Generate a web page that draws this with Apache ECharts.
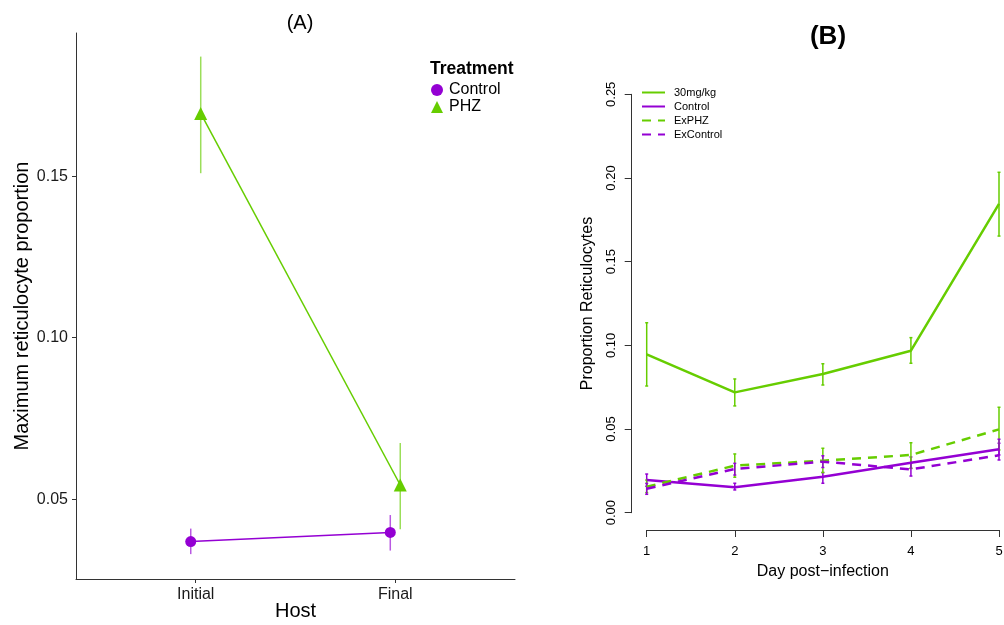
<!DOCTYPE html>
<html>
<head>
<meta charset="utf-8">
<script src="https://cdn.jsdelivr.net/npm/echarts@6/dist/echarts.min.js"></script>
<style>html,body{margin:0;padding:0;background:#fff}#c{width:1004px;height:625px}</style>
</head>
<body>
<div id="c"></div>
<script>
// ---- Panel A data ----
const hostCats = ['Initial', 'Final'];
const aYTicks = [0.05, 0.10, 0.15];
const aControl = [0.0369, 0.0397];
const aControlLo = [0.0330, 0.0341];
const aControlHi = [0.0409, 0.0451];
const aPHZ = [0.1694, 0.0544];
const aPHZLo = [0.1509, 0.0407];
const aPHZHi = [0.1870, 0.0674];

// ---- Panel B data ----
const days = [1, 2, 3, 4, 5];
const b30 = [0.0946, 0.0719, 0.0829, 0.0968, 0.1845];
const b30Lo = [0.0757, 0.0638, 0.0763, 0.0893, 0.1653];
const b30Hi = [0.1135, 0.0799, 0.0890, 0.1046, 0.2034];
const bControl = [0.0195, 0.0152, 0.0215, 0.0299, 0.0379];
const bControlLo = [0.0158, 0.0136, 0.0176, 0.0265, 0.0345];
const bControlHi = [0.0231, 0.0176, 0.0240, 0.0333, 0.0415];
const bExPHZ = [0.0155, 0.0281, 0.0311, 0.0345, 0.0498];
const bExPHZLo = [0.0120, 0.0212, 0.0240, 0.0265, 0.0375];
const bExPHZHi = [0.0195, 0.0351, 0.0385, 0.0418, 0.0630];
const bExControl = [0.0143, 0.0261, 0.0305, 0.0259, 0.0343];
const bExControlLo = [0.0110, 0.0225, 0.0270, 0.0219, 0.0315];
const bExControlHi = [0.0175, 0.0295, 0.0340, 0.0297, 0.0439];
const bLegendNames = ['30mg/kg', 'Control', 'ExPHZ', 'ExControl'];

const GREEN = '#66CD00';
const PURPLE = '#9400D3';
const FONT = 'Liberation Sans, Arial, sans-serif';
const dodge = 0.025;

function errSeries(xIdx, yIdx, xs, lo, hi, color, lw, cap, opacity) {
  return {
    type: 'custom', xAxisIndex: xIdx, yAxisIndex: yIdx, clip: false, silent: true, z: 3,
    data: xs.map((x, i) => [x, lo[i], hi[i]]),
    renderItem: function (params, api) {
      const x = api.value(0);
      const p1 = api.coord([x, api.value(1)]);
      const p2 = api.coord([x, api.value(2)]);
      const st = { stroke: color, lineWidth: lw, opacity: opacity };
      const ch = [{ type: 'line', shape: { x1: p1[0], y1: p1[1], x2: p2[0], y2: p2[1] }, style: st }];
      if (cap > 0) {
        ch.push({ type: 'line', shape: { x1: p1[0] - cap, y1: p1[1], x2: p1[0] + cap, y2: p1[1] }, style: st });
        ch.push({ type: 'line', shape: { x1: p2[0] - cap, y1: p2[1], x2: p2[0] + cap, y2: p2[1] }, style: st });
      }
      return { type: 'group', children: ch };
    }
  };
}

const aCtrlX = hostCats.map((c, i) => i + 1 - dodge);
const aPhzX = hostCats.map((c, i) => i + 1 + dodge);

const chart = echarts.init(document.getElementById('c'), null, { renderer: 'canvas' });
const option = {
  animation: false,
  textStyle: { fontFamily: FONT },
  title: [
    { text: '(A)', left: 295, top: 8, textAlign: 'center',
      textStyle: { fontSize: 20, fontWeight: 'normal', color: '#000', fontFamily: FONT } },
    { text: '(B)', left: 823, top: 19, textAlign: 'center',
      textStyle: { fontSize: 26, fontWeight: 'bold', color: '#000', fontFamily: FONT } }
  ],
  legend: [
    { show: true, orient: 'vertical', left: 426, top: 77, itemGap: 1, itemWidth: 12, itemHeight: 12,
      data: [{ name: 'A-Control', icon: 'circle' }, { name: 'A-PHZ', icon: 'triangle' }],
      formatter: n => n.replace('A-', ''),
      textStyle: { fontSize: 16, color: '#000', fontFamily: FONT, padding: [0, 0, 0, 1] },
      selectedMode: false },
    { show: true, orient: 'vertical', left: 636, top: 82, itemGap: 3, itemWidth: 23, itemHeight: 11,
      data: bLegendNames.map(n => ({ name: 'B-' + n })),
      formatter: n => n.replace('B-', ''),
      itemStyle: { opacity: 0 },
      textStyle: { fontSize: 11, color: '#000', fontFamily: FONT, padding: [0, 0, 0, 4] },
      selectedMode: false }
  ],
  graphic: [
    { type: 'text', left: 430, top: 60,
      style: { text: 'Treatment', font: 'bold 17.5px ' + FONT, fill: '#000' } }
  ],
  grid: [
    { left: 76, top: 33, width: 439, height: 546, outerBoundsMode: 'none', containLabel: false },
    { left: 646.7, top: 94.3, width: 352.3, height: 418.4, outerBoundsMode: 'none', containLabel: false }
  ],
  xAxis: [
    { type: 'value', gridIndex: 0, min: 0.4, max: 2.6,
      axisLine: { show: true, onZero: false, lineStyle: { color: '#333', width: 1 } },
      axisTick: { show: true, customValues: [1, 2], length: 4, lineStyle: { color: '#333' } },
      axisLabel: { customValues: [1, 2], formatter: v => hostCats[Math.round(v) - 1], fontSize: 16, color: '#1a1a1a', margin: 8, fontFamily: FONT },
      splitLine: { show: false },
      name: 'Host', nameLocation: 'middle', nameGap: 22, nameMoveOverlap: false,
      nameTextStyle: { fontSize: 20, color: '#000', fontFamily: FONT } },
    { type: 'value', gridIndex: 1, min: 1, max: 5, interval: 1, offset: 17.3,
      axisLine: { show: true, onZero: false, lineStyle: { color: '#333', width: 1 } },
      axisTick: { show: true, length: 7, lineStyle: { color: '#333' } },
      axisLabel: { fontSize: 13, color: '#000', margin: 15, fontFamily: FONT },
      splitLine: { show: false },
      name: 'Day post\u2212infection', nameLocation: 'middle', nameGap: 34, nameMoveOverlap: false,
      nameTextStyle: { fontSize: 16, color: '#000', fontFamily: FONT } }
  ],
  yAxis: [
    { type: 'value', gridIndex: 0, min: 0.0253, max: 0.1943,
      axisLine: { show: true, onZero: false, lineStyle: { color: '#333', width: 1 } },
      axisTick: { show: true, customValues: aYTicks, length: 4, lineStyle: { color: '#333' } },
      axisLabel: { customValues: aYTicks, formatter: v => v.toFixed(2), fontSize: 16, color: '#1a1a1a', margin: 8, fontFamily: FONT },
      splitLine: { show: false },
      name: 'Maximum reticulocyte proportion', nameLocation: 'middle', nameGap: 44, nameRotate: 90, nameMoveOverlap: false,
      nameTextStyle: { fontSize: 20, color: '#000', fontFamily: FONT } },
    { type: 'value', gridIndex: 1, min: 0, max: 0.25, interval: 0.05, offset: 15,
      axisLine: { show: true, onZero: false, lineStyle: { color: '#333', width: 1 } },
      axisTick: { show: true, length: 7, lineStyle: { color: '#333' } },
      axisLabel: { rotate: 90, formatter: v => v.toFixed(2), fontSize: 13, color: '#000', margin: 14, fontFamily: FONT },
      splitLine: { show: false },
      name: 'Proportion Reticulocytes', nameLocation: 'middle', nameGap: 36, nameRotate: 90, nameMoveOverlap: false,
      nameTextStyle: { fontSize: 16, color: '#000', fontFamily: FONT } }
  ],
  series: [
    errSeries(0, 0, aCtrlX, aControlLo, aControlHi, PURPLE, 1.5, 0, 0.65),
    errSeries(0, 0, aPhzX, aPHZLo, aPHZHi, GREEN, 1.5, 0, 0.65),
    { name: 'A-Control', type: 'line', xAxisIndex: 0, yAxisIndex: 0, z: 4,
      data: aCtrlX.map((x, i) => [x, aControl[i]]),
      symbol: 'circle', symbolSize: 11, color: PURPLE,
      lineStyle: { color: PURPLE, width: 1.5 }, itemStyle: { color: PURPLE } },
    { name: 'A-PHZ', type: 'line', xAxisIndex: 0, yAxisIndex: 0, z: 4,
      data: aPhzX.map((x, i) => [x, aPHZ[i]]),
      symbol: 'triangle', symbolSize: 13, color: GREEN,
      lineStyle: { color: GREEN, width: 1.5 }, itemStyle: { color: GREEN } },

    { name: 'B-30mg/kg', type: 'line', xAxisIndex: 1, yAxisIndex: 1, clip: false, symbol: 'none', color: GREEN,
      data: days.map((d, i) => [d, b30[i]]), lineStyle: { color: GREEN, width: 2.5, type: 'solid' } },
    { name: 'B-Control', type: 'line', xAxisIndex: 1, yAxisIndex: 1, clip: false, symbol: 'none', color: PURPLE,
      data: days.map((d, i) => [d, bControl[i]]), lineStyle: { color: PURPLE, width: 2.5, type: 'solid' } },
    { name: 'B-ExPHZ', type: 'line', xAxisIndex: 1, yAxisIndex: 1, clip: false, symbol: 'none', color: GREEN,
      data: days.map((d, i) => [d, bExPHZ[i]]), lineStyle: { color: GREEN, width: 2.5, type: [9, 7] } },
    { name: 'B-ExControl', type: 'line', xAxisIndex: 1, yAxisIndex: 1, clip: false, symbol: 'none', color: PURPLE,
      data: days.map((d, i) => [d, bExControl[i]]), lineStyle: { color: PURPLE, width: 2.5, type: [9, 7] } },
    errSeries(1, 1, days, b30Lo, b30Hi, GREEN, 1.5, 1.5, 1),
    errSeries(1, 1, days, bControlLo, bControlHi, PURPLE, 1.5, 1.5, 1),
    errSeries(1, 1, days, bExPHZLo, bExPHZHi, GREEN, 1.5, 1.5, 1),
    errSeries(1, 1, days, bExControlLo, bExControlHi, PURPLE, 1.5, 1.5, 1)
  ]
};
chart.setOption(option);
</script>
</body>
</html>
